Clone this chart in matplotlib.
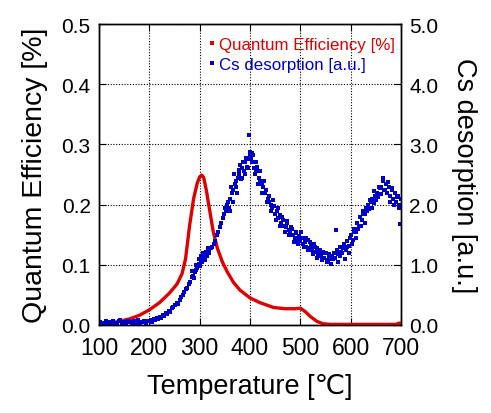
import matplotlib
matplotlib.use("Agg")
import matplotlib.pyplot as plt
from matplotlib.lines import Line2D

plt.rcParams['font.family'] = ['Liberation Sans', 'DejaVu Sans']

# Quantum efficiency curve (red line)
qe_temp = [100, 120, 140, 160, 180, 200, 220, 240, 255, 265, 272, 280, 288, 295, 300,
           304, 308, 313, 320, 327, 335, 345, 355, 367, 380, 400, 420, 447, 470, 490,
           500, 510, 520, 533, 545, 560, 600, 650, 690, 696, 700]
qe_value = [0.002, 0.003, 0.006, 0.010, 0.016, 0.025, 0.037, 0.053, 0.068, 0.085, 0.11,
            0.165, 0.21, 0.235, 0.246, 0.249, 0.245, 0.225, 0.19, 0.155, 0.128, 0.105,
            0.088, 0.071, 0.058, 0.045, 0.037, 0.029, 0.027, 0.027, 0.028, 0.022, 0.014,
            0.006, 0.002, 0.001, 0.001, 0.001, 0.001, 0.003, 0.003]

# Cs desorption scatter (blue points)
cs_temp = [
    100, 103, 106, 110, 113, 117, 120, 124, 128, 131, 135, 139, 142, 146, 150, 154, 158,
    162, 166, 170, 174, 178, 182, 186, 190, 194, 198,
    200, 203, 206, 209, 212, 215, 218, 221, 224, 227, 230, 233, 236, 239, 242, 245, 248,
    251, 254, 257, 260, 263, 266, 269, 272, 275, 278, 281, 284, 287, 290, 293, 296, 299,
    285, 289, 292, 295, 298, 301, 303, 305, 307, 309, 311, 313, 315, 317, 319,
    302, 306, 310, 314, 318, 322, 325, 328, 331, 334, 337, 340, 343, 346, 349, 352, 355,
    358, 361, 364, 367, 370, 373, 376, 379, 382, 385, 388, 391, 394, 397, 400,
    350, 356, 360, 363, 366, 369, 372, 375, 378, 381, 384, 387, 390, 393, 396, 398, 401,
    403, 405, 407,
    402, 405, 408, 411, 414, 417, 420, 423, 426, 429, 432, 435, 438, 441, 444, 447, 450,
    453, 456, 459, 462, 465, 468, 471, 474, 477, 480, 483, 486, 489, 492, 495, 498,
    404, 409, 412, 416, 419, 424, 428, 433, 437, 442, 446, 451, 455, 460, 464, 469, 473,
    478, 482, 487, 491, 496,
    500, 503, 506, 509, 512, 515, 518, 521, 524, 527, 530, 533, 536, 539, 542, 545, 548,
    551, 554, 557, 560, 563, 566, 569, 572, 575, 578, 581, 584, 587, 590, 593, 596, 599,
    502, 507, 511, 516, 520, 525, 529, 534, 538, 543, 547, 552, 556, 561, 565, 570, 574,
    579, 583, 588, 592, 597,
    601, 604, 607, 610, 613, 616, 619, 622, 625, 628, 631, 634, 637, 640, 643, 646, 649,
    652, 655, 658, 661, 664, 667, 670, 673, 676, 679, 682, 685, 688, 691, 694, 697, 700,
    603, 606, 611, 615, 620, 624, 629, 633, 638, 642, 647, 651, 656, 660, 665, 669, 674,
    678, 683, 687, 692, 696, 699,
]
cs_value = [
    0.03, 0.05, 0.02, 0.04, 0.06, 0.03, 0.05, 0.02, 0.07, 0.04, 0.03, 0.06, 0.08, 0.04,
    0.05, 0.03, 0.07, 0.05, 0.02, 0.06, 0.04, 0.08, 0.03, 0.05, 0.06, 0.04, 0.07,
    0.06, 0.09, 0.05, 0.10, 0.08, 0.12, 0.10, 0.14, 0.12, 0.17, 0.15, 0.20, 0.18, 0.24,
    0.22, 0.28, 0.30, 0.33, 0.37, 0.35, 0.42, 0.47, 0.50, 0.55, 0.60, 0.62, 0.68, 0.72,
    0.80, 0.82, 0.88, 0.92, 0.98, 1.02,
    0.90, 0.78, 1.00, 0.95, 1.10, 0.98, 1.15, 1.05, 1.20, 1.10, 1.08, 1.22, 1.15, 1.28, 1.20,
    1.05, 1.12, 1.18, 1.14, 1.22, 1.28, 1.30, 1.35, 1.40, 1.50, 1.55, 1.62, 1.70, 1.78,
    1.85, 1.90, 2.00, 1.95, 2.10, 2.20, 2.25, 2.35, 2.30, 2.45, 2.50, 2.42, 2.60, 2.55,
    2.70, 2.62, 2.75, 2.80,
    1.95, 2.05, 1.90, 2.30, 2.05, 2.50, 2.40, 2.20, 2.58, 2.65, 2.45, 2.70, 2.50, 2.78,
    2.60, 3.16, 2.88, 2.70, 2.82, 2.60,
    2.75, 2.70, 2.60, 2.55, 2.62, 2.45, 2.40, 2.35, 2.30, 2.20, 2.25, 2.10, 2.05, 2.00,
    1.95, 1.98, 1.85, 1.90, 1.78, 1.82, 1.70, 1.75, 1.65, 1.62, 1.70, 1.58, 1.55, 1.60,
    1.50, 1.45, 1.52, 1.42, 1.48,
    2.85, 2.50, 2.70, 2.35, 2.55, 2.20, 2.40, 2.05, 2.15, 1.90, 2.08, 1.75, 1.95, 1.65,
    1.80, 1.55, 1.72, 1.50, 1.62, 1.38, 1.55, 1.35,
    1.40, 1.45, 1.35, 1.38, 1.30, 1.42, 1.28, 1.32, 1.25, 1.35, 1.22, 1.28, 1.18, 1.25,
    1.15, 1.22, 1.12, 1.20, 1.08, 1.18, 1.10, 1.15, 1.20, 1.12, 1.25, 1.18, 1.30, 1.22,
    1.28, 1.35, 1.25, 1.40, 1.32, 1.45,
    1.55, 1.30, 1.45, 1.25, 1.38, 1.18, 1.30, 1.12, 1.22, 1.08, 1.20, 1.05, 1.15, 1.02,
    1.10, 1.58, 1.05, 1.15, 1.20, 1.10, 1.30, 1.20,
    1.50, 1.42, 1.60, 1.55, 1.70, 1.65, 1.80, 1.75, 1.90, 1.85, 1.95, 2.00, 1.92, 2.05,
    2.10, 2.02, 2.15, 2.20, 2.12, 2.28, 2.30, 2.40, 2.25, 2.35, 2.20, 2.30, 2.15, 2.25,
    2.10, 2.20, 2.05, 2.15, 2.00, 2.10,
    1.35, 1.55, 1.45, 1.60, 1.65, 1.85, 1.70, 1.90, 2.08, 1.95, 2.22, 2.08, 2.30, 2.18,
    2.44, 2.25, 2.38, 2.05, 2.28, 2.00, 2.12, 1.95, 1.68,
]

x_ticks = [100, 200, 300, 400, 500, 600, 700]
qe_ticks = [0.0, 0.1, 0.2, 0.3, 0.4, 0.5]
cs_ticks = [0.0, 1.0, 2.0, 3.0, 4.0, 5.0]

red = '#e00000'
blue = '#0000c8'

fig = plt.figure(figsize=(4.91, 4.14), dpi=100)
ax = fig.add_axes([0.2016, 0.2126, 0.6151, 0.727])
ax2 = ax.twinx()

ax.plot(qe_temp, qe_value, color=red, lw=2.4, zorder=3)
ax2.plot(cs_temp, cs_value, 's', color=blue, ms=2.5, mew=0, zorder=2)

ax.set_xlim(100, 700)
ax.set_ylim(0, 0.5)
ax2.set_ylim(0, 5.0)
ax.set_xticks(x_ticks)
ax.set_yticks(qe_ticks)
ax2.set_yticks(cs_ticks)
ax.set_yticklabels([f"{v:.1f}" for v in qe_ticks])
ax2.set_yticklabels([f"{v:.1f}" for v in cs_ticks])

ax.grid(True, color='black', linestyle=(0, (1, 1.5)), linewidth=0.8)
ax.set_axisbelow(True)

ax.tick_params(axis='x', direction='in', top=True, length=5, labelsize=16.5, pad=8)
ax.tick_params(axis='y', direction='in', length=5, labelsize=15, pad=6)
ax2.tick_params(axis='y', direction='in', length=5, labelsize=15, pad=6)

for a in (ax, ax2):
    for s in a.spines.values():
        s.set_linewidth(1.0)

ax.set_xlabel("Temperature [℃]", fontsize=19.5, labelpad=10)
ax.set_ylabel("Quantum Efficiency [%]", fontsize=20.5, labelpad=10)
ax2.set_ylabel("Cs desorption [a.u.]", fontsize=19.5, rotation=270, labelpad=28)

handles = [
    Line2D([], [], marker='s', ms=2.2, mew=0, color=red, linestyle='none'),
    Line2D([], [], marker='s', ms=2.2, mew=0, color=blue, linestyle='none'),
]
leg = ax.legend(handles, ["Quantum Efficiency [%]", "Cs desorption [a.u.]"],
                loc='upper right', bbox_to_anchor=(0.99, 0.968), frameon=False,
                fontsize=12.2, handlelength=0.3, handletextpad=0.25,
                labelspacing=0.3, borderaxespad=0.0, borderpad=0.2,
                labelcolor=[red, blue])

fig.savefig("out.png", dpi=100)
